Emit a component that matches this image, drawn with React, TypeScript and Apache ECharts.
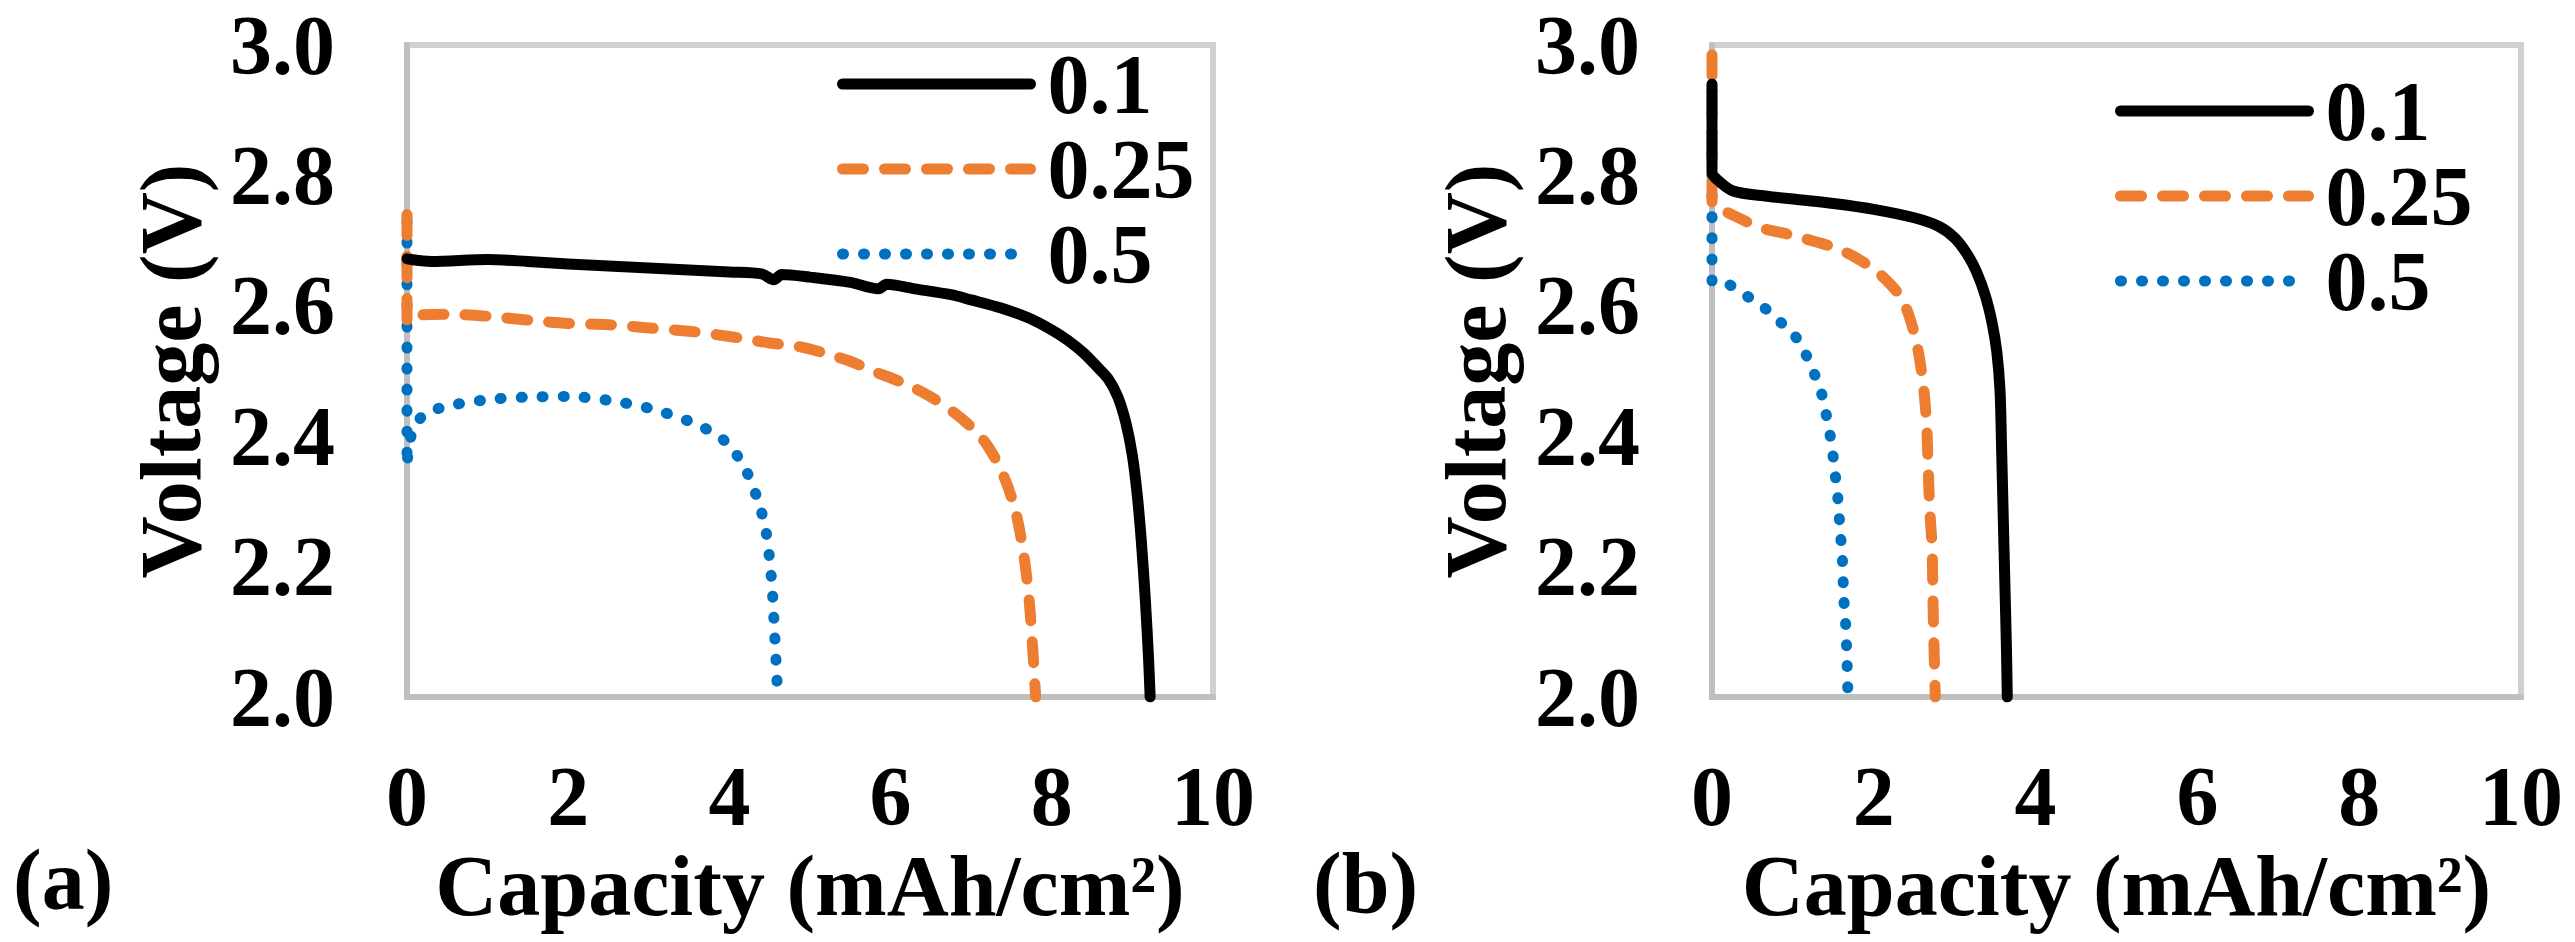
import { useEffect, useRef } from 'react';
import * as echarts from 'echarts';

// rate labels (legend) and line looks, shared by both panels
const rateNames = ['0.1', '0.25', '0.5'];
const rateColors = ['#000000', '#ED7D31', '#0070C0'];

const xMin = 0;
const xMax = 10;
const xStep = 2;
const yMin = 2.0;
const yMax = 3.0;
const yStep = 0.2;

// panel (a): [capacity mAh/cm2, voltage V]
const panelA_01: [number, number][] = [
  [0, 2.672], [0.3, 2.668], [1, 2.671], [1.5, 2.668], [2, 2.664], [2.5, 2.661], [3, 2.658],
  [3.5, 2.655], [4, 2.652], [4.4, 2.649], [4.55, 2.64], [4.65, 2.648], [5, 2.644], [5.5, 2.636],
  [5.85, 2.626], [5.95, 2.633], [6.3, 2.626], [6.75, 2.617], [7.0, 2.609], [7.36, 2.597],
  [7.7, 2.582], [8.0, 2.563], [8.2, 2.547], [8.4, 2.527], [8.55, 2.508], [8.7, 2.488],
  [8.82, 2.46], [8.92, 2.42], [9.0, 2.37], [9.06, 2.31], [9.11, 2.24], [9.16, 2.15],
  [9.2, 2.06], [9.22, 2.0],
];
const panelA_025: [number, number][] = [
  [0, 2.74], [0, 2.575], [0.1, 2.585], [0.5, 2.587], [1, 2.584], [1.5, 2.578], [2, 2.573],
  [2.5, 2.571], [3, 2.566], [3.5, 2.561], [4, 2.553], [4.5, 2.543], [4.88, 2.537], [5.16, 2.528],
  [5.5, 2.515], [5.78, 2.5], [6.15, 2.482], [6.49, 2.461], [6.8, 2.435], [7.0, 2.414],
  [7.2, 2.386], [7.4, 2.34], [7.55, 2.285], [7.65, 2.22], [7.72, 2.147], [7.77, 2.06], [7.8, 2.0],
];
const panelA_05: [number, number][] = [
  [0, 2.73], [0, 2.355], [0.05, 2.4], [0.2, 2.432], [0.5, 2.446], [1, 2.456], [1.5, 2.46],
  [2, 2.461], [2.5, 2.455], [3, 2.443], [3.5, 2.423], [3.8, 2.405], [4, 2.386], [4.2, 2.349],
  [4.35, 2.303], [4.45, 2.257], [4.52, 2.184], [4.56, 2.101], [4.6, 2.0],
];

// panel (b)
const panelB_01: [number, number][] = [
  [0, 2.94], [0, 2.805], [0.06, 2.794], [0.26, 2.776], [0.68, 2.768], [1.05, 2.763], [1.5, 2.757],
  [2, 2.748], [2.5, 2.735], [2.8, 2.722], [3.0, 2.704], [3.15, 2.68], [3.27, 2.652],
  [3.38, 2.615], [3.46, 2.575], [3.52, 2.53], [3.56, 2.47], [3.58, 2.38], [3.6, 2.276],
  [3.62, 2.175], [3.64, 2.072], [3.65, 2.0],
];
const panelB_025: [number, number][] = [
  [0, 2.985], [0, 2.755], [0.06, 2.751], [0.31, 2.736], [0.59, 2.72], [0.93, 2.71], [1.5, 2.69],
  [1.79, 2.673], [2.08, 2.648], [2.35, 2.61], [2.51, 2.553], [2.6, 2.49], [2.65, 2.425],
  [2.67, 2.359], [2.69, 2.292], [2.72, 2.229], [2.73, 2.16], [2.74, 2.098], [2.76, 2.0],
];
const panelB_05: [number, number][] = [
  [0, 2.93], [0, 2.637], [0.2, 2.633], [0.37, 2.62], [0.55, 2.605], [0.72, 2.59], [0.88, 2.571],
  [1.03, 2.553], [1.15, 2.528], [1.25, 2.5], [1.34, 2.472], [1.4, 2.44], [1.45, 2.409],
  [1.49, 2.376], [1.52, 2.344], [1.55, 2.313], [1.57, 2.28], [1.59, 2.247], [1.61, 2.215],
  [1.63, 2.149], [1.65, 2.117], [1.67, 2.051], [1.68, 2.0],
];

const panels = [
  { tag: '(a)', data: [panelA_01, panelA_025, panelA_05] },
  { tag: '(b)', data: [panelB_01, panelB_025, panelB_05] },
];

const FONT = 'Liberation Serif, Times New Roman, serif';
const lineTypes: any[] = ['solid', [21, 21], [1, 20]];

export default function App() {
  const chartRef = useRef<HTMLDivElement>(null);

  useEffect(() => {
    document.body.style.margin = '0';
    if (!chartRef.current) return;
    const chart = echarts.init(chartRef.current, undefined, { renderer: 'svg' });

    const grids = [
      { left: 407, top: 45, width: 806, height: 652 },
      { left: 1712, top: 45, width: 809, height: 652 },
    ];
    const legendPos = [
      { left: 832, top: 37 },
      { left: 2110, top: 64 },
    ];
    const tagPos = [
      { left: 13, top: 837 },
      { left: 1313, top: 840 },
    ];

    const textBase = { fontFamily: FONT, fontWeight: 'bold' as const, color: '#000' };

    chart.setOption({
      animation: false,
      backgroundColor: '#ffffff',
      grid: grids.map((g) => ({
        ...g,
        show: true,
        borderColor: '#d0d0d0',
        borderWidth: 6,
        backgroundColor: 'transparent',
      })),
      xAxis: grids.map((_, i) => ({
        type: 'value',
        gridIndex: i,
        min: xMin,
        max: xMax,
        interval: xStep,
        axisLine: { show: true, onZero: false, lineStyle: { color: '#bfbfbf', width: 6 } },
        axisTick: { show: false },
        splitLine: { show: false },
        axisLabel: { ...textBase, fontSize: 84, margin: 57 },
        name: 'Capacity (mAh/cm²)',
        nameLocation: 'middle',
        nameGap: 113,
        nameTextStyle: { ...textBase, fontSize: 86 },
      })),
      yAxis: grids.map((_, i) => ({
        type: 'value',
        gridIndex: i,
        min: yMin,
        max: yMax,
        interval: yStep,
        axisLine: { show: true, onZero: false, lineStyle: { color: '#bfbfbf', width: 6 } },
        axisTick: { show: false },
        splitLine: { show: false },
        axisLabel: { ...textBase, fontSize: 84, margin: 72, formatter: (v: number) => v.toFixed(1) },
        name: 'Voltage (V)',
        nameLocation: 'middle',
        nameGap: 193,
        nameTextStyle: { ...textBase, fontSize: 86 },
      })),
      legend: legendPos.map((p) => ({
        ...p,
        data: rateNames,
        orient: 'vertical',
        itemWidth: 188,
        itemHeight: 12,
        itemGap: 1,
        selectedMode: false,
        itemStyle: { opacity: 0 },
        lineStyle: { width: 11, cap: 'round' },
        textStyle: { ...textBase, fontSize: 84, padding: [0, 0, 0, 12] },
      })),
      graphic: panels.map((p, i) => ({
        type: 'text',
        ...tagPos[i],
        style: { text: p.tag, fontFamily: FONT, fontWeight: 'bold', fontSize: 86, fill: '#000' },
      })),
      series: panels.flatMap((p, i) =>
        p.data.map((d, k) => ({
          name: rateNames[k],
          type: 'line',
          xAxisIndex: i,
          yAxisIndex: i,
          data: d,
          symbol: 'none',
          showSymbol: false,
          silent: true,
          smooth: 0.3,
          z: 10 - k,
          lineStyle: {
            color: rateColors[k],
            width: 11,
            type: lineTypes[k],
            cap: 'round',
            join: 'round',
          },
          itemStyle: { color: rateColors[k] },
        })),
      ),
    });

    return () => {
      chart.dispose();
    };
  }, []);

  return <div ref={chartRef} style={{ width: 2575, height: 942 }} />;
}
